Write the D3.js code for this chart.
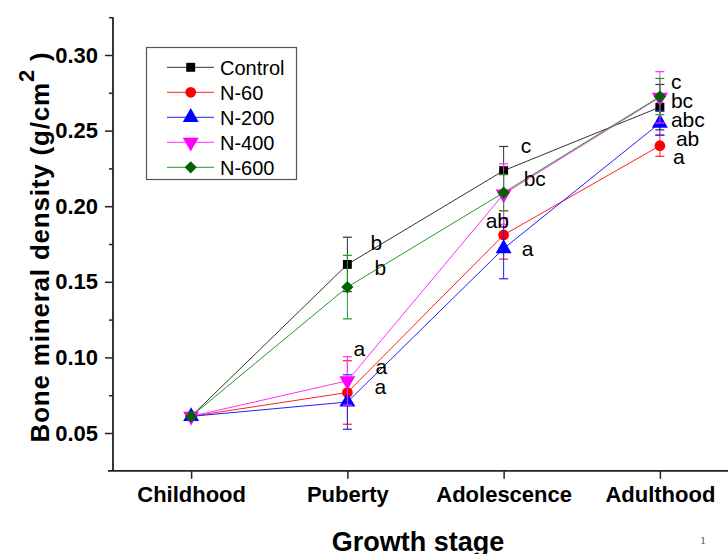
<!DOCTYPE html>
<html><head><meta charset="utf-8">
<script src="https://cdn.jsdelivr.net/npm/d3@7"></script>
<style>body{margin:0;background:#fff}svg{display:block}</style>
</head><body>
<svg id="c" width="728" height="554"></svg>
<script>
const stages = ["Childhood","Puberty","Adolescence","Adulthood"];
const seriesNames = ["Control","N-60","N-200","N-400","N-600"];
const control = [0.061, 0.1615, 0.2235, 0.2655];
const n60     = [0.061, 0.0768, 0.1810, 0.2400];
const n200    = [0.061, 0.0705, 0.1720, 0.2550];
const n400    = [0.061, 0.0845, 0.2080, 0.2720];
const n600    = [0.061, 0.1465, 0.2090, 0.2725];
const errControl = [0.001, 0.018, 0.016, 0.015];
const err60      = [0.001, 0.021, 0.016, 0.007];
const err200     = [0.001, 0.018, 0.020, 0.008];
const err400     = [0.001, 0.016, 0.020, 0.017];
const err600     = [0.001, 0.021, 0.012, 0.012];
const yTicks = [0.05, 0.10, 0.15, 0.20, 0.25, 0.30];
const yMinor = [0.075, 0.125, 0.175, 0.225, 0.275, 0.325];
// significance letters: stage index, text, anchor value
const sigStage = [1,1,1,1,1, 2,2,2,2, 3,3,3,3,3];
const sigText  = ["b","b","a","a","a", "c","bc","ab","a", "c","bc","abc","ab","a"];
const sigValue = [0.1759,0.1591,0.1056,0.0938,0.0806, 0.2398,0.2185,0.1904,0.1722, 0.2823,0.2698,0.2570,0.2449,0.2325];

const values = [control, n60, n200, n400, n600];
const errs = [errControl, err60, err200, err400, err600];
const colors = ["#000000","#ff0000","#0000ff","#ff00ff","#006400"];
const lineColors = ["#333333","#ff2020","#2020ff","#ff30ff","#229922"];
const symbols = [d3.symbolSquare, d3.symbolCircle, d3.symbolTriangle, d3.symbolTriangle, d3.symbolSquare];
const symSize = [80, 90, 110, 110, 75];
const symRot = [0,0,0,180,45];
const sigDx = [23,27,6,28,27, 17,20,-18,18, 11,11,11,16,13];

const svg = d3.select("#c");
const x = d3.scaleLinear().domain([-0.5, 3.5]).range([113, 738]);
const y = d3.scaleLinear().domain([0.025, 0.325]).range([470.8, 17.2]);
const font = "'Liberation Sans', Arial, sans-serif";

// axes
const yAxis = svg.append("g").attr("transform","translate(113,0)")
  .call(d3.axisLeft(y).tickValues(yTicks).tickSize(8).tickPadding(7).tickFormat(d3.format(".2f")));
yAxis.select(".domain").remove();
yAxis.selectAll("text").attr("font-family",font).attr("font-weight","bold").attr("font-size","22px").attr("fill","#000");
yAxis.selectAll("line").attr("stroke","#222").attr("stroke-width",1.5);
svg.append("g").attr("transform","translate(113,0)")
  .call(d3.axisLeft(y).tickValues(yMinor).tickSize(4).tickFormat(""))
  .call(g=>g.select(".domain").remove())
  .selectAll("line").attr("stroke","#222").attr("stroke-width",1.5);
svg.append("line").attr("x1",113).attr("x2",113).attr("y1",y(0.325)).attr("y2",y(0.025))
  .attr("stroke","#222").attr("stroke-width",1.8);

const xAxis = svg.append("g").attr("transform",`translate(0,${y(0.025)})`)
  .call(d3.axisBottom(x).tickValues([0,1,2,3]).tickSize(8).tickPadding(8).tickFormat(i=>stages[i]));
xAxis.select(".domain").remove();
xAxis.selectAll("text").attr("font-family",font).attr("font-weight","bold").attr("font-size","22px").attr("fill","#000");
xAxis.selectAll("line").attr("stroke","#222").attr("stroke-width",1.5);
svg.append("line").attr("x1",108).attr("x2",728).attr("y1",y(0.025)).attr("y2",y(0.025))
  .attr("stroke","#222").attr("stroke-width",1.8);

// titles
svg.append("text").attr("x",418).attr("y",551).attr("text-anchor","middle")
  .attr("font-family",font).attr("font-weight","bold").attr("font-size","27px").text("Growth stage");
const yt = svg.append("text").attr("transform","translate(49,247) rotate(-90)").attr("text-anchor","middle")
  .attr("font-family",font).attr("font-weight","bold").attr("font-size","26px").attr("letter-spacing","0.8px");
yt.append("tspan").text("Bone mineral density (g/cm");
yt.append("tspan").attr("dy",-15).attr("font-size","22px").text("2");
yt.append("tspan").attr("dy",15).text(" )");
svg.append("text").attr("x",700).attr("y",544).attr("font-family","'DejaVu Serif', serif")
  .attr("font-size","10px").attr("fill","#555").text("1");

// series
const line = d3.line().x((d,i)=>x(i)).y(d=>y(d));
values.forEach((vals,s)=>{
  const g = svg.append("g");
  g.append("path").attr("d",line(vals)).attr("fill","none").attr("stroke",lineColors[s]).attr("stroke-width",1);
  vals.forEach((v,i)=>{
    const e = errs[s][i];
    if (e > 0.002) {
      g.append("line").attr("x1",x(i)).attr("x2",x(i)).attr("y1",y(v-e)).attr("y2",y(v+e)).attr("stroke",lineColors[s]).attr("stroke-width",1);
      [v-e, v+e].forEach(c=>g.append("line").attr("x1",x(i)-4.5).attr("x2",x(i)+4.5).attr("y1",y(c)).attr("y2",y(c)).attr("stroke",lineColors[s]).attr("stroke-width",1.2));
    }
  });
  g.selectAll("path.m").data(vals).join("path").attr("class","m")
    .attr("d",d3.symbol().type(symbols[s]).size(symSize[s]))
    .attr("transform",(d,i)=>`translate(${x(i)},${y(d)}) rotate(${symRot[s]})`)
    .attr("fill",colors[s]);
});

// significance letters
sigText.forEach((t,k)=>{
  svg.append("text").attr("x",x(sigStage[k])+sigDx[k]).attr("y",y(sigValue[k])).attr("dy","0.35em")
    .attr("font-family",font).attr("font-size","21px").attr("fill","#000").text(t);
});

// legend
const lg = svg.append("g");
lg.append("rect").attr("x",146.5).attr("y",47.5).attr("width",150).attr("height",132)
  .attr("fill","#fff").attr("stroke","#555").attr("stroke-width",1.2);
seriesNames.forEach((n,s)=>{
  const ly = 67.3 + s*25;
  lg.append("line").attr("x1",167).attr("x2",214).attr("y1",ly).attr("y2",ly).attr("stroke",lineColors[s]).attr("stroke-width",1);
  lg.append("path").attr("d",d3.symbol().type(symbols[s]).size(symSize[s])())
    .attr("transform",`translate(190.7,${ly}) rotate(${symRot[s]})`).attr("fill",colors[s]);
  lg.append("text").attr("x",220).attr("y",ly).attr("dy","0.36em").attr("font-family",font)
    .attr("font-size","20px").attr("fill","#000").text(n);
});
</script>
</body></html>
